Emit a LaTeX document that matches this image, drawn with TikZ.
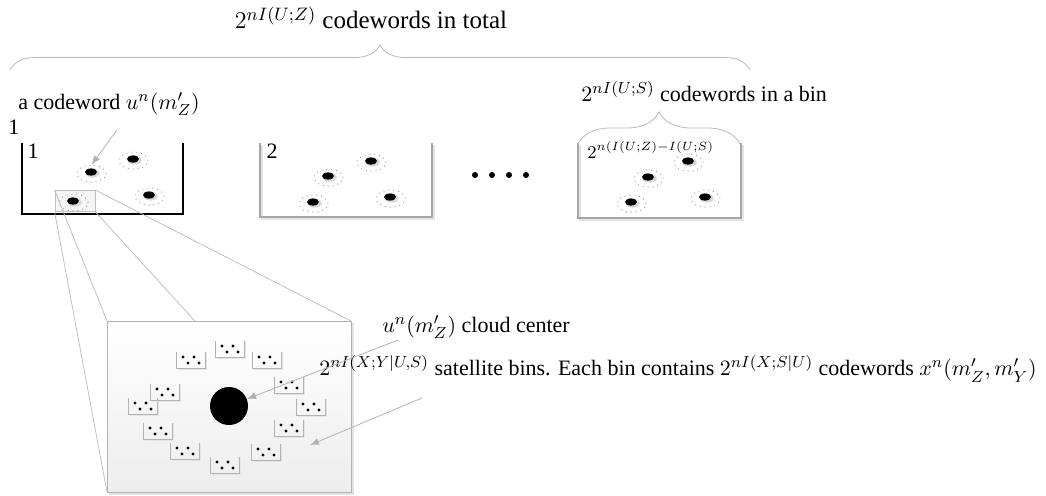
\documentclass[tikz,border=0pt]{standalone}
\usepackage[no-math]{fontspec}
\setmainfont{Liberation Serif}
\usetikzlibrary{arrows.meta,shapes.geometric,decorations.pathreplacing}

\tikzset{
  lbl/.style={anchor=west, inner sep=0pt},
  cwring/.style={ellipse, draw=gray!85, line width=0.45pt, dotted, minimum width=14.5pt,
                 minimum height=8.5pt, inner sep=0pt},
  binwall/.style={draw=gray!70, line width=1pt},
  binshade/.style={draw=gray!22, line width=1.2pt},
  pointer/.style={draw=gray!60, -{Latex[length=4.5pt,width=3.5pt]}},
  zoomline/.style={draw=gray!55, line width=0.35pt},
  bracket/.style={draw=gray!55, decorate, decoration={brace, amplitude=#1}},
  codeword/.pic={
    \fill[gray!30] (0.8pt,-0.6pt) ellipse [x radius=3.6pt, y radius=2.2pt];
    \fill[black] (0,0) ellipse [x radius=3pt, y radius=1.8pt];
    \node[cwring] (-ring) at (0.3pt,-0.8pt) {};
  },
  satbin/.pic={
    \draw[gray!20, line width=0.8pt] (7.8pt,4.25pt) |- (-6.7pt,-4.8pt);
    \draw[gray!60] (-7.25pt,4.25pt) |- (7.25pt,-4.25pt) -- (7.25pt,4.25pt);
    \foreach \dx/\dy in {-4/1.5, 1.5/1.5, -1.5/-1.5, 4/-1.5}
      \fill (\dx pt,\dy pt) circle (0.8pt);
  }
}

\begin{document}
\begin{tikzpicture}[x=0.5pt,y=-0.5pt,font=\fontsize{11}{13}\selectfont]
  \useasboundingbox (0,0) rectangle (1046,495);

  % all codewords
  \node[font=\fontsize{12.5}{15}\selectfont] (total) at (371,18)
       {$2^{nI(U;Z)}$ codewords in total};
  \draw[bracket=12.5pt] (10,70) -- (750,70);

  \node[lbl] (cwtext) at (18,104) {a codeword $u^n(m'_Z)$};
  \node (one) at (14,127) {1};

  % the bins
  \draw[binwall, draw=black] (22,143) |- (183,214) -- (183,143);
  \foreach \l/\r/\b in {260/432/217, 578/741/218} {
    \draw[binshade] (\l+2,145) |- (\r+2,\b+2) -- (\r+2,145);
    \draw[binwall] (\l,143) |- (\r,\b) -- (\r,143);
  }
  \node (binone) at (33,151) {1};
  \node (bintwo) at (272,151) {2};
  \node[lbl, font=\fontsize{9}{11}\selectfont] (binlast) at (587,150)
       {$2^{n(I(U;Z)-I(U;S)}$};

  \node[draw=gray!50, fill=gray!8, minimum width=20pt, minimum height=10.5pt,
        inner sep=0pt] (zoomsrc) at (75,201) {};

  \foreach \n/\x/\y in {A/91/172, B/133/159, C/149/195, D/73/201,
                        E/328/176, F/371/161, G/390/197, H/313/202,
                        I/648/177, J/688/161, K/705/197, L/631/202}
    \pic (cw\n) at (\x,\y) {codeword};

  \foreach \x in {475,492,509,526}
    \fill (\x,175) circle (1.5pt);

  \draw[bracket=16pt] (578,144) -- (740,144);
  \node[lbl] (bintext) at (581,92) {$2^{nI(U;S)}$ codewords in a bin};

  \coordinate (cwfrom) at (117,130);
  \draw[pointer] (cwfrom) -- (cwA-ring.north);

  % zoomed cloud
  \coordinate (framenw) at (107,321);
  \coordinate (framese) at (351,492);
  \draw[zoomline] (zoomsrc.north west) -- (framenw);
  \draw[zoomline] (zoomsrc.south west) -- (framenw |- framese);
  \draw[zoomline] (zoomsrc.north east) -- (framese |- framenw);
  \draw[zoomline] (zoomsrc.south east) -- (framese);
  \draw[gray!22, line width=1.2pt] (353,323) |- (109,494);
  \draw[draw=gray!60, top color=white, bottom color=gray!14]
       (framenw) rectangle (framese);

  \node[circle, fill=black, minimum size=19pt, inner sep=0pt] (cloud) at (229,406) {};
  \foreach \x/\y in {230/349, 267/360, 289/385, 311/407, 289/428, 266/452,
                     225/465, 185/451, 158/431, 143/406, 165/392, 191/360}
    \pic at (\x,\y) {satbin};

  \node[lbl] (cloudtext) at (382,327) {$u^n(m'_Z)$ cloud center};
  \node[lbl] (sattext) at (319,369) {$2^{nI(X;Y|U,S)}$ satellite bins. Each bin
       contains $2^{nI(X;S|U)}$ codewords $x^n(m'_Z,m'_Y)$};

  \coordinate (cloudfrom) at (398,340);
  \draw[pointer] (cloudfrom) -- (cloud);
  \coordinate (satfrom) at (422,398);
  \coordinate (satto) at (310,445);
  \draw[pointer] (satfrom) -- (satto);
\end{tikzpicture}
\end{document}
